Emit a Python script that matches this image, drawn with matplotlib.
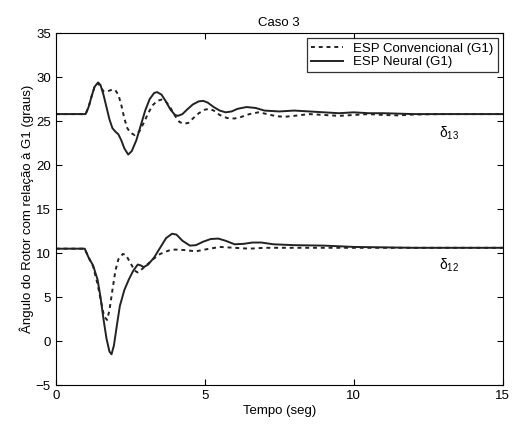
import matplotlib
matplotlib.use('Agg')
import matplotlib.pyplot as plt

plt.rcParams['font.family'] = ['Liberation Sans', 'DejaVu Sans']
plt.rcParams['mathtext.default'] = 'regular'

# delta13, neural stabilizer
t13_neural = [0, 1.0, 1.1, 1.2, 1.3, 1.42, 1.5, 1.6, 1.7, 1.8, 1.9, 2.0, 2.1, 2.2, 2.3, 2.43,
              2.55, 2.7, 2.85, 3.0, 3.15, 3.3, 3.4, 3.55, 3.7, 3.85, 4.0, 4.1, 4.25, 4.4, 4.6,
              4.8, 4.95, 5.1, 5.3, 5.5, 5.7, 5.9, 6.1, 6.4, 6.7, 7.0, 7.5, 8.0, 8.5, 9.0, 9.5,
              10.0, 10.5, 11.0, 11.5, 12.0, 15.0]
d13_neural = [25.8, 25.8, 26.6, 27.8, 28.9, 29.4, 29.1, 28.0, 26.6, 25.2, 24.2, 23.8, 23.5, 22.8,
              21.9, 21.2, 21.6, 22.8, 24.5, 26.2, 27.5, 28.2, 28.3, 28.0, 27.2, 26.3, 25.7, 25.6,
              25.8, 26.3, 26.9, 27.25, 27.3, 27.1, 26.6, 26.2, 26.0, 26.1, 26.4, 26.6, 26.5, 26.2,
              26.1, 26.2, 26.1, 26.0, 25.9, 26.0, 25.9, 25.9, 25.85, 25.8, 25.8]

# delta13, conventional stabilizer
t13_conv = [0, 1.0, 1.1, 1.2, 1.3, 1.42, 1.5, 1.6, 1.75, 1.9, 2.0, 2.1, 2.2, 2.3, 2.4, 2.5, 2.65,
            2.8, 2.95, 3.1, 3.25, 3.4, 3.55, 3.7, 3.85, 4.0, 4.15, 4.3, 4.45, 4.6, 4.8, 5.0, 5.15,
            5.3, 5.5, 5.75, 6.0, 6.2, 6.5, 6.8, 7.1, 7.4, 7.7, 8.0, 8.5, 9.0, 9.5, 10.0, 10.5,
            11.0, 11.5, 12.0, 13.0, 15.0]
d13_conv = [25.8, 25.8, 26.6, 27.8, 28.9, 29.3, 28.9, 28.4, 28.4, 28.6, 28.5, 28.0, 26.8, 25.3,
            24.2, 23.7, 23.4, 23.8, 24.8, 25.9, 26.8, 27.3, 27.45, 27.2, 26.5, 25.6, 24.9, 24.7,
            24.8, 25.3, 25.9, 26.3, 26.4, 26.2, 25.7, 25.35, 25.3, 25.45, 25.8, 26.0, 25.8, 25.55,
            25.5, 25.6, 25.8, 25.7, 25.6, 25.7, 25.8, 25.7, 25.65, 25.75, 25.8, 25.8]

# delta12, neural stabilizer
t12_neural = [0, 0.97, 1.1, 1.25, 1.4, 1.5, 1.6, 1.7, 1.8, 1.87, 1.95, 2.05, 2.15, 2.3, 2.45, 2.6,
              2.75, 2.85, 2.95, 3.1, 3.3, 3.5, 3.7, 3.9, 4.05, 4.25, 4.5, 4.7, 4.95, 5.2, 5.45,
              5.7, 6.0, 6.3, 6.6, 6.9, 7.3, 8.0, 9.0, 10.0, 11.0, 12.0, 15.0]
d12_neural = [10.5, 10.5, 9.5, 8.6, 7.0, 5.0, 2.5, 0.3, -1.2, -1.5, -0.5, 1.8, 4.0, 5.8, 7.0, 8.0,
              8.7, 8.6, 8.4, 8.7, 9.5, 10.6, 11.7, 12.2, 12.1, 11.4, 10.85, 10.9, 11.3, 11.6, 11.65,
              11.4, 11.0, 11.05, 11.2, 11.2, 11.0, 10.9, 10.85, 10.7, 10.65, 10.6, 10.6]

# delta12, conventional stabilizer
t12_conv = [0, 0.97, 1.1, 1.25, 1.4, 1.5, 1.62, 1.72, 1.8, 1.9, 2.0, 2.1, 2.25, 2.35, 2.5, 2.65,
            2.75, 2.9, 3.1, 3.3, 3.5, 3.8, 4.0, 4.3, 4.7, 5.0, 5.5, 6.0, 6.5, 7.0, 8.0, 15.0]
d12_conv = [10.5, 10.5, 9.5, 8.5, 6.5, 4.8, 2.8, 2.4, 3.5, 5.8, 8.0, 9.3, 9.9, 9.8, 8.9, 8.0,
            7.8, 8.2, 8.8, 9.4, 9.9, 10.3, 10.4, 10.35, 10.2, 10.4, 10.7, 10.6, 10.5, 10.6, 10.6,
            10.6]

fig = plt.figure(figsize=(5.12, 4.25), dpi=100)
ax = fig.add_axes([0.109, 0.094, 0.873, 0.828])

dash = (0, (2.0, 2.0))
ax.plot(t13_conv, d13_conv, color='#222222', linestyle=dash, lw=1.4, label='ESP Convencional (G1)')
ax.plot(t13_neural, d13_neural, color='#222222', lw=1.4, label='ESP Neural (G1)')
ax.plot(t12_conv, d12_conv, color='#222222', linestyle=dash, lw=1.4)
ax.plot(t12_neural, d12_neural, color='#222222', lw=1.4)

ax.text(13.2, 23.6, r'$\delta_{13}$', fontsize=10, ha='center', va='center')
ax.text(13.2, 8.6, r'$\delta_{12}$', fontsize=10, ha='center', va='center')

ax.set_xlim(0, 15)
ax.set_ylim(-5, 35)
ax.set_xticks([0, 5, 10, 15])
ax.set_yticks(range(-5, 36, 5))
ax.tick_params(direction='in', top=True, right=True, labelsize=9.5, length=4)
ax.set_xlabel('Tempo (seg)', fontsize=9.5, labelpad=2)
ax.set_ylabel('Ângulo do Rotor com relação à G1 (graus)', fontsize=9.5, labelpad=1)
ax.set_title('Caso 3', fontsize=9.5, pad=5)

leg = ax.legend(loc='upper right', fontsize=9.5, frameon=True, fancybox=False,
                edgecolor='black', handlelength=2.4, borderpad=0.3, labelspacing=0.1,
                borderaxespad=0.4)
leg.get_frame().set_linewidth(0.9)

fig.savefig('out.png', dpi=100)
